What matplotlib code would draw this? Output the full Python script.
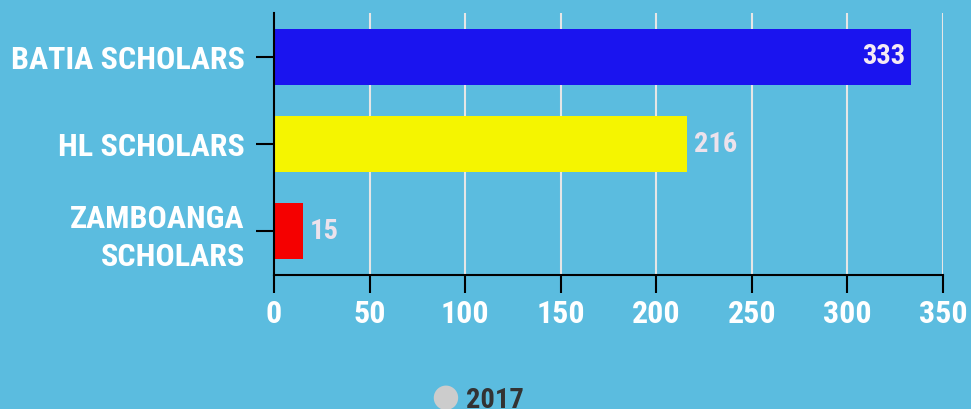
import matplotlib
matplotlib.use("Agg")
import matplotlib.pyplot as plt
from matplotlib import font_manager

categories = ["BATIA SCHOLARS", "HL SCHOLARS", "ZAMBOANGA\nSCHOLARS"]
values = [333, 216, 15]
colors = ["#1a14ef", "#f5f500", "#f50000"]
series_name = "2017"

available = {f.name for f in font_manager.fontManager.ttflist}
family = "Roboto"
for name in ["Roboto Condensed", "Liberation Sans Narrow", "Roboto"]:
    if name in available:
        family = name
        break
plt.rcParams["font.family"] = family
plt.rcParams["font.weight"] = "bold"

bg = "#5bbcdf"
fig = plt.figure(figsize=(9.71, 4.09), dpi=100, facecolor=bg)
ax = fig.add_axes([0.2822, 0.3276, 0.9712 - 0.2822, 0.968 - 0.3276])
ax.set_facecolor(bg)

y = list(range(len(categories)))
ax.barh(y, values, height=0.64, color=colors, zorder=3)
ax.set_ylim(2.5, -0.5)
ax.set_xlim(0, 350)
ax.set_xticks(range(0, 351, 50))
ax.set_yticks(y)

fs = 23
ax.set_yticklabels(categories, color="white", fontsize=fs, fontweight="bold",
                   linespacing=1.32)
ax.set_xticklabels([str(v) for v in range(0, 351, 50)], color="white",
                   fontsize=fs, fontweight="bold")
ax.tick_params(axis="both", length=13, width=1.5, color="black")
ax.tick_params(axis="x", pad=4)
ax.tick_params(axis="y", pad=8)

ax.grid(axis="x", color="#e6e6e6", linewidth=1.5, zorder=0)
for side in ["top", "right"]:
    ax.spines[side].set_visible(False)
for side in ["left", "bottom"]:
    ax.spines[side].set_linewidth(1.5)
    ax.spines[side].set_color("black")
    ax.spines[side].set_zorder(4)

for i, v in enumerate(values):
    if v > 300:
        ax.text(v - 3, i, str(v), ha="right", va="center", color="#f4eaf4",
                fontsize=20.5, fontweight="bold", zorder=5)
    else:
        ax.text(v + 3.5, i, str(v), ha="left", va="center", color="#ece2ec",
                fontsize=20.5, fontweight="bold", zorder=5)

fig.text(0.458, 0.027, "\u25cf", color="#cccccc", fontsize=23, ha="center",
         va="center", family="DejaVu Sans")
fig.text(0.480, 0.022, series_name, color="#333333", fontsize=20.5,
         fontweight="bold", ha="left", va="center")

fig.savefig("out.png", dpi=100, facecolor=bg)
